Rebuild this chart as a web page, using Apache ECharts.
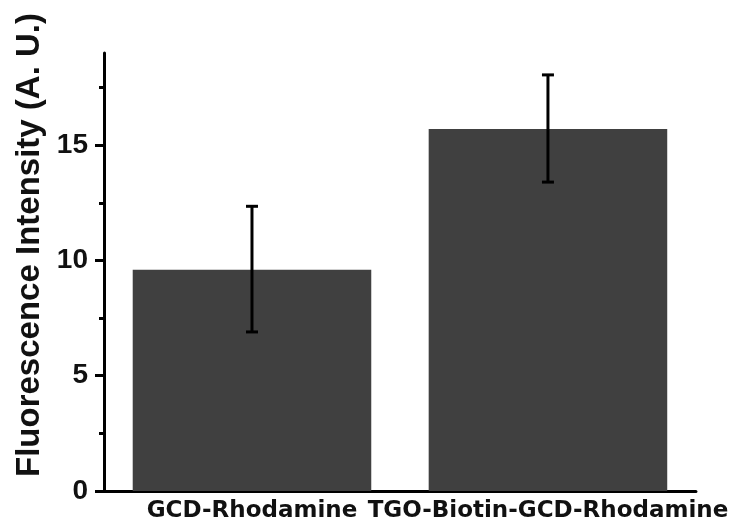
<!DOCTYPE html>
<html>
<head>
<meta charset="utf-8">
<script src="https://cdn.jsdelivr.net/npm/echarts@6/dist/echarts.min.js"></script>
<style>
  html, body { margin: 0; padding: 0; background: #fff; }
  #chart { width: 731px; height: 525px; }
</style>
</head>
<body>
<div id="chart"></div>
<script>
// Sample groups and their mean fluorescence with error range
const categories = ['GCD-Rhodamine', 'TGO-Biotin-GCD-Rhodamine'];
const intensity = [9.6, 15.7];
const errLow = [6.9, 13.4];
const errHigh = [12.35, 18.05];
const majorTicks = [0, 5, 10, 15];
const minorTicks = [2.5, 7.5, 12.5, 17.5];

const chart = echarts.init(document.getElementById('chart'), null, { renderer: 'canvas' });

const errData = categories.map((c, i) => [i, errLow[i], errHigh[i]]);

chart.setOption({
  animation: false,
  backgroundColor: '#ffffff',
  grid: { left: 104, right: 34, top: 53, bottom: 34, containLabel: false },
  xAxis: {
    type: 'category',
    data: categories,
    axisLine: { show: true, lineStyle: { color: '#000', width: 3 } },
    axisTick: { show: false },
    axisLabel: {
      margin: 9,
      color: '#111',
      fontFamily: 'DejaVu Sans',
      fontWeight: 'bold',
      fontSize: 23,
      interval: 0
    }
  },
  yAxis: [
    {
      type: 'value',
      position: 'left',
      min: 0,
      max: 19,
      interval: 5,
      name: 'Fluorescence Intensity (A. U.)',
      nameLocation: 'middle',
      nameRotate: 90,
      nameGap: 58,
      nameTextStyle: {
        color: '#111',
        fontFamily: 'Liberation Sans',
        fontWeight: 'bold',
        fontSize: 33,
        padding: [0, 0, 0, 54]
      },
      splitLine: { show: false },
      axisLine: { show: true, lineStyle: { color: '#000', width: 3 } },
      axisTick: {
        show: true,
        inside: false,
        length: 9,
        customValues: majorTicks,
        lineStyle: { color: '#000', width: 3 }
      },
      axisLabel: {
        customValues: majorTicks,
        margin: 16,
        color: '#111',
        fontFamily: 'Liberation Sans',
        fontWeight: 'bold',
        fontSize: 28
      }
    },
    {
      type: 'value',
      position: 'left',
      offset: 0,
      min: 0,
      max: 19,
      interval: 2.5,
      splitLine: { show: false },
      axisLine: { show: false },
      axisLabel: { show: false },
      axisTick: {
        show: true,
        length: 5,
        customValues: minorTicks,
        lineStyle: { color: '#000', width: 3 }
      }
    }
  ],
  series: [
    {
      type: 'bar',
      data: intensity,
      barWidth: '80.6%',
      itemStyle: { color: '#404040' },
      z: 2
    },
    {
      type: 'custom',
      data: errData,
      z: 5,
      renderItem: function (params, api) {
        const x = api.value(0);
        const lo = api.coord([x, api.value(1)]);
        const hi = api.coord([x, api.value(2)]);
        const cap = 6;
        const style = { stroke: '#000', lineWidth: 3 };
        return {
          type: 'group',
          children: [
            { type: 'line', shape: { x1: lo[0], y1: lo[1], x2: hi[0], y2: hi[1] }, style: style },
            { type: 'line', shape: { x1: hi[0] - cap, y1: hi[1], x2: hi[0] + cap, y2: hi[1] }, style: style },
            { type: 'line', shape: { x1: lo[0] - cap, y1: lo[1], x2: lo[0] + cap, y2: lo[1] }, style: style }
          ]
        };
      }
    }
  ]
});
</script>
</body>
</html>
